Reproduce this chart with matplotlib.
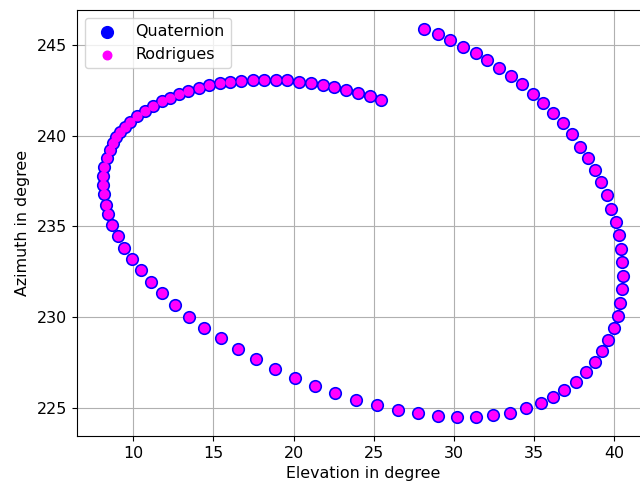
import matplotlib
matplotlib.use("Agg")
import matplotlib.pyplot as plt

# --- Data ---
elevation = [
    28.15, 28.99, 29.76, 30.55, 31.36, 32.08, 32.81, 33.56, 34.27, 34.92,
    35.56, 36.20, 36.79, 37.35, 37.87, 38.33, 38.77, 39.16, 39.55, 39.80,
    40.09, 40.30, 40.42, 40.50, 40.55, 40.50, 40.38, 40.21, 39.97, 39.63,
    39.25, 38.80, 38.26, 37.62, 36.89, 36.16, 35.40, 34.47, 33.50, 32.45,
    31.38, 30.19, 29.00, 27.73, 26.48, 25.20, 23.89, 22.60, 21.34, 20.07,
    18.86, 17.67, 16.55, 15.47, 14.43, 13.49, 12.62, 11.81, 11.09, 10.46,
    9.90, 9.42, 9.03, 8.68, 8.45, 8.28, 8.16, 8.11, 8.12, 8.20,
    8.35, 8.52, 8.72, 8.95, 9.20, 9.48, 9.81, 10.26, 10.74, 11.23,
    11.76, 12.26, 12.87, 13.43, 14.08, 14.72, 15.39, 16.05, 16.74, 17.44,
    18.15, 18.87, 19.57, 20.34, 21.09, 21.82, 22.52, 23.25, 24.04, 24.75,
    25.47,
]
azimuth = [
    245.88, 245.59, 245.28, 244.91, 244.54, 244.17, 243.75, 243.29, 242.83, 242.31,
    241.78, 241.23, 240.68, 240.07, 239.40, 238.79, 238.11, 237.42, 236.72, 235.98,
    235.26, 234.50, 233.76, 233.02, 232.26, 231.53, 230.79, 230.06, 229.37, 228.71,
    228.15, 227.50, 226.95, 226.43, 225.97, 225.58, 225.23, 224.97, 224.73, 224.59,
    224.51, 224.50, 224.56, 224.70, 224.88, 225.13, 225.44, 225.81, 226.21, 226.65,
    227.13, 227.66, 228.22, 228.82, 229.41, 230.01, 230.66, 231.30, 231.94, 232.57,
    233.18, 233.82, 234.45, 235.10, 235.67, 236.20, 236.77, 237.28, 237.80, 238.29,
    238.77, 239.21, 239.59, 239.93, 240.20, 240.48, 240.78, 241.07, 241.35, 241.62,
    241.91, 242.10, 242.32, 242.48, 242.63, 242.77, 242.89, 242.96, 243.03, 243.07,
    243.09, 243.08, 243.05, 242.98, 242.89, 242.79, 242.67, 242.52, 242.37, 242.20,
    241.97,
]


def main():
    plt.rcParams["font.size"] = 11.4

    fig = plt.figure(figsize=(6.4, 4.84), dpi=100)
    # axes run slightly past the right edge, like the reference
    ax = fig.add_axes([0.1203, 0.099, 0.894, 0.881])

    ax.scatter(elevation, azimuth, s=72, color="blue", label="Quaternion", zorder=2)
    ax.scatter(elevation, azimuth, s=38, color="magenta", label="Rodrigues", zorder=3)

    ax.set_xlabel("Elevation in degree")
    ax.set_ylabel("Azimuth in degree", labelpad=5)
    ax.grid(True)
    ax.set_axisbelow(True)
    ax.legend(loc="upper left")

    fig.savefig("out.png", dpi=100)


if __name__ == "__main__":
    main()
